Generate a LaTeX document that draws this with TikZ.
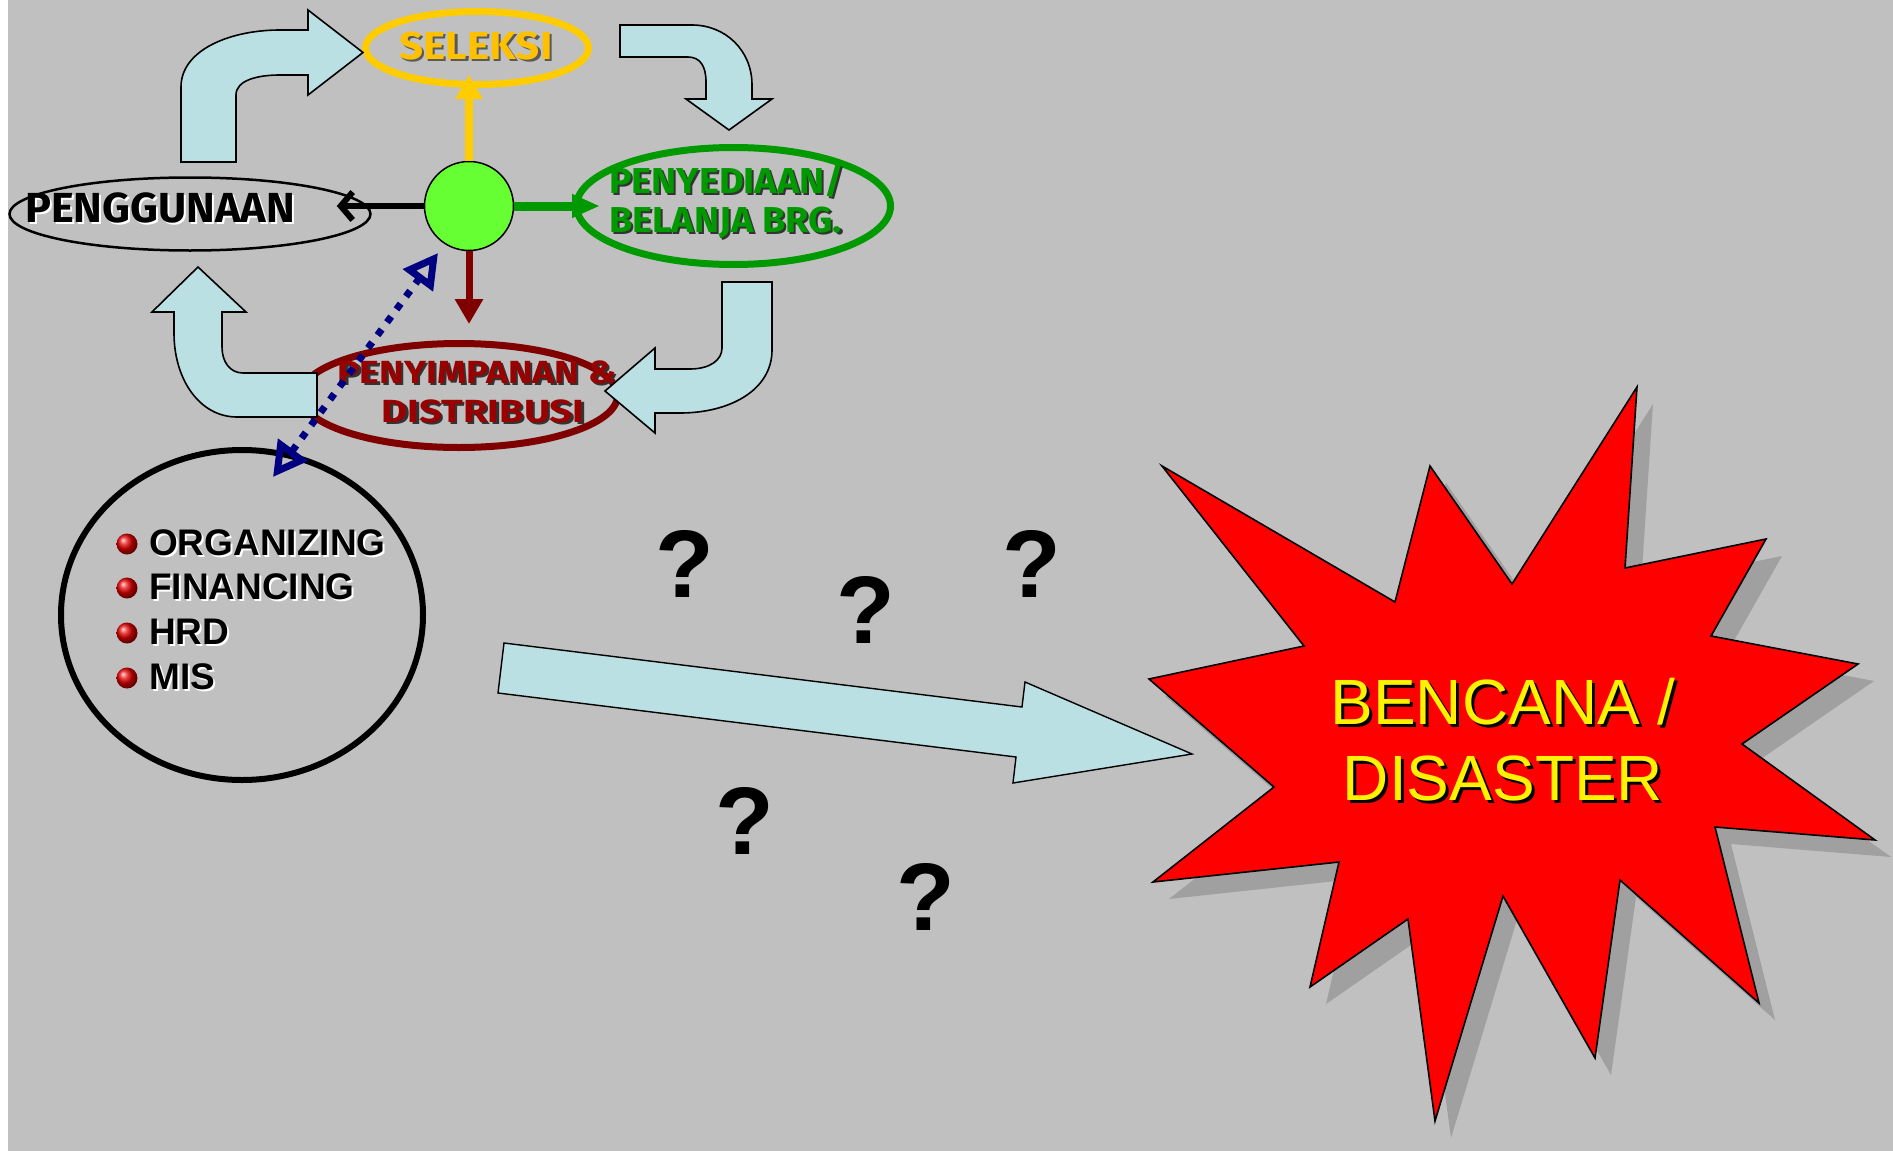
\documentclass[tikz,border=0pt]{standalone}
\usepackage{graphicx}
\usepackage{fontspec}
\setmainfont{Liberation Sans}
\newfontfamily\comicf{Fira Sans}
\usetikzlibrary{arrows.meta,shapes.geometric,shadings}

\definecolor{bgGray}{RGB}{192,192,192}
\definecolor{paleBlue}{RGB}{187,224,227}
\definecolor{goldY}{RGB}{255,204,0}
\definecolor{goldText}{RGB}{255,192,0}
\definecolor{limeG}{RGB}{102,255,51}
\definecolor{deepG}{RGB}{0,153,0}
\definecolor{maroonR}{RGB}{128,0,0}
\definecolor{maroonText}{RGB}{153,0,0}
\definecolor{navyB}{RGB}{0,0,128}
\definecolor{starShade}{RGB}{160,160,160}

% text with an offset drop shadow: [offset]{text colour}{shadow colour}{text}
\newcommand\shtxt[4][2pt]{\rlap{\kern#1\raisebox{-#1}{\color{#3}#4}}{\color{#2}#4}}

\begin{document}
\begin{tikzpicture}[x=1pt,y=-1pt,
  blockarrow/.style={fill=paleBlue, draw=black, line width=1.6pt, line join=miter},
  comictext/.style={font=\comicf\bfseries, inner sep=0pt},
  itemtext/.style={font=\fontsize{37}{40}\selectfont\bfseries, inner sep=0pt, anchor=base west},
  bulletball/.style={circle, inner sep=0pt, minimum size=21pt, shading=ball, ball color=red!90!black},
  qmark/.style={font=\fontsize{96}{96}\selectfont\bfseries, inner sep=0pt, anchor=base},
]
\useasboundingbox (0,0) rectangle (1893,1151);
\fill[white] (0,0) rectangle (1893,1151);
\fill[bgGray] (8,0) rectangle (1893,1151);

% ---- cycle of ellipses ----
\node[ellipse, draw=goldY, line width=7pt, minimum width=223pt, minimum height=73pt, inner sep=0pt] (seleksi) at (477,48) {};
\node[comictext, anchor=base] (seleksiLbl) at (476,59) {\fontsize{39}{40}\selectfont\scalebox{1.08}[1]{\shtxt{goldText}{black!65}{SELEKSI}}};

\node[ellipse, draw=black, line width=2.5pt, minimum width=361pt, minimum height=73pt, inner sep=0pt] (guna) at (190,214) {};
\node[comictext, anchor=base] (gunaLbl) at (160,222) {\fontsize{42}{44}\selectfont\scalebox{1.03}[1]{\shtxt{black}{white}{PENGGUNAAN}}};

\node[ellipse, draw=deepG, line width=7pt, minimum width=314pt, minimum height=117pt, inner sep=0pt] (sedia) at (733.5,206) {};
\node[comictext, anchor=base west] (sediaLblA) at (609,193) {\fontsize{36}{38}\selectfont\scalebox{1.05}[1]{\shtxt{deepG}{black!80}{PENYEDIAAN/}}};
\node[comictext, anchor=base west] (sediaLblB) at (609,232) {\fontsize{36}{38}\selectfont\scalebox{1.05}[1]{\shtxt{deepG}{black!80}{BELANJA BRG.}}};

\node[ellipse, draw=maroonR, line width=7pt, minimum width=317pt, minimum height=104pt, inner sep=0pt] (simpan) at (459,395.5) {};
\node[comictext, anchor=base] (simpanLblA) at (477,383) {\fontsize{32}{34}\selectfont\scalebox{1.16}[1]{\shtxt{maroonText}{black!80}{PENYIMPANAN \&}}};
\node[comictext, anchor=base] (simpanLblB) at (483,422) {\fontsize{32}{34}\selectfont\scalebox{1.25}[1]{\shtxt{maroonText}{black!80}{DISTRIBUSI}}};

\node[circle, fill=limeG, draw=black, line width=1.5pt, minimum size=89pt, inner sep=0pt] (hub) at (469,206) {};

% ---- bent block arrows round the cycle ----
\path[blockarrow] (181,162) -- (181,87) .. controls (181,50) and (230,30) .. (280,30)
  -- (308,30) -- (308,10) -- (363,52.5) -- (308,95) -- (308,75) -- (280,75)
  .. controls (258,75) and (236,80) .. (236,95) -- (236,162) -- cycle;
\path[blockarrow] (620,25) -- (692,25) .. controls (725,25) and (752,50) .. (752,85)
  -- (752,99) -- (772,99) -- (729,130) -- (686,99) -- (706,99) -- (706,82)
  .. controls (706,66) and (700,57) .. (688,57) -- (620,57) -- cycle;
\path[blockarrow] (772,282) -- (772,350) .. controls (772,390) and (730,413) .. (680,413)
  -- (655,413) -- (655,433) -- (605,391) -- (655,348) -- (655,369) -- (690,369)
  .. controls (710,369) and (722,360) .. (722,348) -- (722,282) -- cycle;
\path[blockarrow] (198,267) -- (246,312) -- (222,312) -- (222,347)
  .. controls (222,362) and (230,373) .. (243,373) -- (317,373) -- (317,417) -- (237,417)
  .. controls (200,417) and (174,380) .. (174,333) -- (174,312) -- (152,312) -- cycle;

% ---- spokes from the hub ----
\draw[goldY, line width=8pt, -{Triangle[length=24pt,width=26pt]}] (hub.north) -- ([yshift=13pt]hub.north |- seleksi.south);
\draw[black, line width=6pt, -{Straight Barb[length=12pt,width=28pt]}] (hub.west) -- ([xshift=-35pt]hub.west -| guna.east);
\draw[deepG, line width=9pt, -{Triangle[length=28pt,width=22pt]}] (hub.east) -- ([xshift=27pt]hub.east -| sedia.west);
\draw[maroonR, line width=7pt, -{Triangle[length=25pt,width=27pt]}] (hub.south) -- ([yshift=16pt]hub.south |- simpan.north);

% ---- support functions ----
\node[ellipse, draw=black, line width=6pt, minimum width=362pt, minimum height=330pt, inner sep=0pt] (org) at (242,615) {};
\node[bulletball] (ballA) at (127,544) {};
\node[bulletball] (ballB) at (127,588) {};
\node[bulletball] (ballC) at (127,633) {};
\node[bulletball] (ballD) at (127,678) {};
\node[itemtext] (itemA) at (149,555) {\shtxt{black}{white}{ORGANIZING}};
\node[itemtext] (itemB) at (149,599) {\shtxt{black}{white}{FINANCING}};
\node[itemtext] (itemC) at (149,644) {\shtxt{black}{white}{HRD}};
\node[itemtext] (itemD) at (149,689) {\shtxt{black}{white}{MIS}};

\coordinate (linkTop) at (438,253);
\coordinate (linkBot) at (273,477);
\draw[navyB, line width=7pt, dash pattern=on 7pt off 9pt,
  {Triangle[open,length=34pt,width=36pt]}-{Triangle[open,length=34pt,width=36pt]}] (linkBot) -- (linkTop);

% ---- drift toward disaster ----
\path[blockarrow, line width=1.4pt] (504,643) -- (1022,707) -- (1025,682) -- (1192,754)
  -- (1013,783) -- (1016,757) -- (498,693) -- cycle;

\node[qmark] (qA) at (685,597) {?};
\node[qmark] (qB) at (866,643) {?};
\node[qmark] (qC) at (1032,597) {?};
\node[qmark] (qD) at (745,854) {?};
\node[qmark] (qE) at (926,930) {?};

% ---- starburst ----
\def\burst{(1162,466) -- (1395,602) -- (1430,466) -- (1512,584) -- (1637,387) -- (1625,568)
  -- (1766,539) -- (1711,636) -- (1858,664) -- (1742,744) -- (1875,840) -- (1715,827)
  -- (1759,1003) -- (1620,880) -- (1595,1058) -- (1503,896) -- (1435,1121) -- (1408,919)
  -- (1310,987) -- (1339,862) -- (1153,882) -- (1274,787) -- (1149,679) -- (1304,646) -- cycle}
\fill[starShade, shift={(16,17)}] \burst;
\draw[fill=red, draw=black, line width=1.6pt, line join=miter] \burst;
\node[font=\fontsize{64}{76}\selectfont, align=center, inner sep=0pt] (disaster) at (1503,741)
  {\shtxt[3pt]{yellow}{black}{BENCANA /}\\\shtxt[3pt]{yellow}{black}{DISASTER}};
\end{tikzpicture}
\end{document}
